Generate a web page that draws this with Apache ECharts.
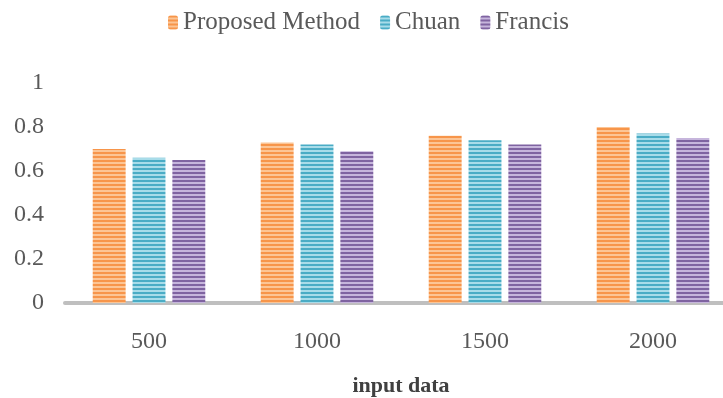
<!DOCTYPE html>
<html>
<head>
<meta charset="utf-8">
<script src="https://cdn.jsdelivr.net/npm/echarts@6/dist/echarts.min.js"></script>
<style>
html,body{margin:0;padding:0;background:#fff}
#main{width:723px;height:398px}
</style>
</head>
<body>
<div id="main"></div>
<script>
var categories = ['500', '1000', '1500', '2000'];
var proposed = [0.70, 0.73, 0.76, 0.80];
var chuan = [0.66, 0.72, 0.74, 0.77];
var francis = [0.65, 0.69, 0.72, 0.75];

// horizontal stripes like the original bar fill
function stripes(dark, light) {
  var c = document.createElement('canvas');
  c.width = 4; c.height = 4;
  var ctx = c.getContext('2d');
  ctx.fillStyle = light; ctx.fillRect(0, 0, 4, 4);
  ctx.fillStyle = dark; ctx.fillRect(0, 0, 4, 2);
  return { image: c, repeat: 'repeat' };
}

var font = 'Liberation Serif';
var chart = echarts.init(document.getElementById('main'));

function bar(name, data, fill) {
  return {
    name: name,
    type: 'bar',
    data: data,
    barGap: '21%',
    barCategoryGap: '33%',
    itemStyle: { color: fill }
  };
}

chart.setOption({
  animation: false,
  legend: {
    left: 163,
    top: 5,
    itemWidth: 10,
    itemHeight: 14,
    itemGap: 20,
    textStyle: { fontFamily: font, fontSize: 25, color: '#595959' },
    data: ['Proposed Method', 'Chuan', 'Francis']
  },
  // plot runs past the right edge, as in the cropped original
  grid: { left: 65, width: 672, top: 83, bottom: 95, outerBoundsMode: 'none' },
  xAxis: {
    type: 'category',
    data: categories,
    name: 'input data',
    nameLocation: 'middle',
    nameGap: 72,
    nameTextStyle: { fontFamily: font, fontSize: 22, fontWeight: 'bold', color: '#404040' },
    axisLine: { lineStyle: { color: '#BFBFBF', width: 4 } },
    axisTick: { show: false },
    axisLabel: { margin: 27, fontFamily: font, fontSize: 24, color: '#595959' }
  },
  yAxis: {
    type: 'value',
    min: 0,
    max: 1,
    interval: 0.2,
    splitLine: { show: false },
    axisLine: { show: false },
    axisLabel: { margin: 21, fontFamily: font, fontSize: 24, color: '#595959' }
  },
  series: [
    bar('Proposed Method', proposed, stripes('#F7954A', '#FCC595')),
    bar('Chuan', chuan, stripes('#4AACC5', '#A8DCE9')),
    bar('Francis', francis, stripes('#7F63A1', '#C6B5DC'))
  ]
});
</script>
</body>
</html>
